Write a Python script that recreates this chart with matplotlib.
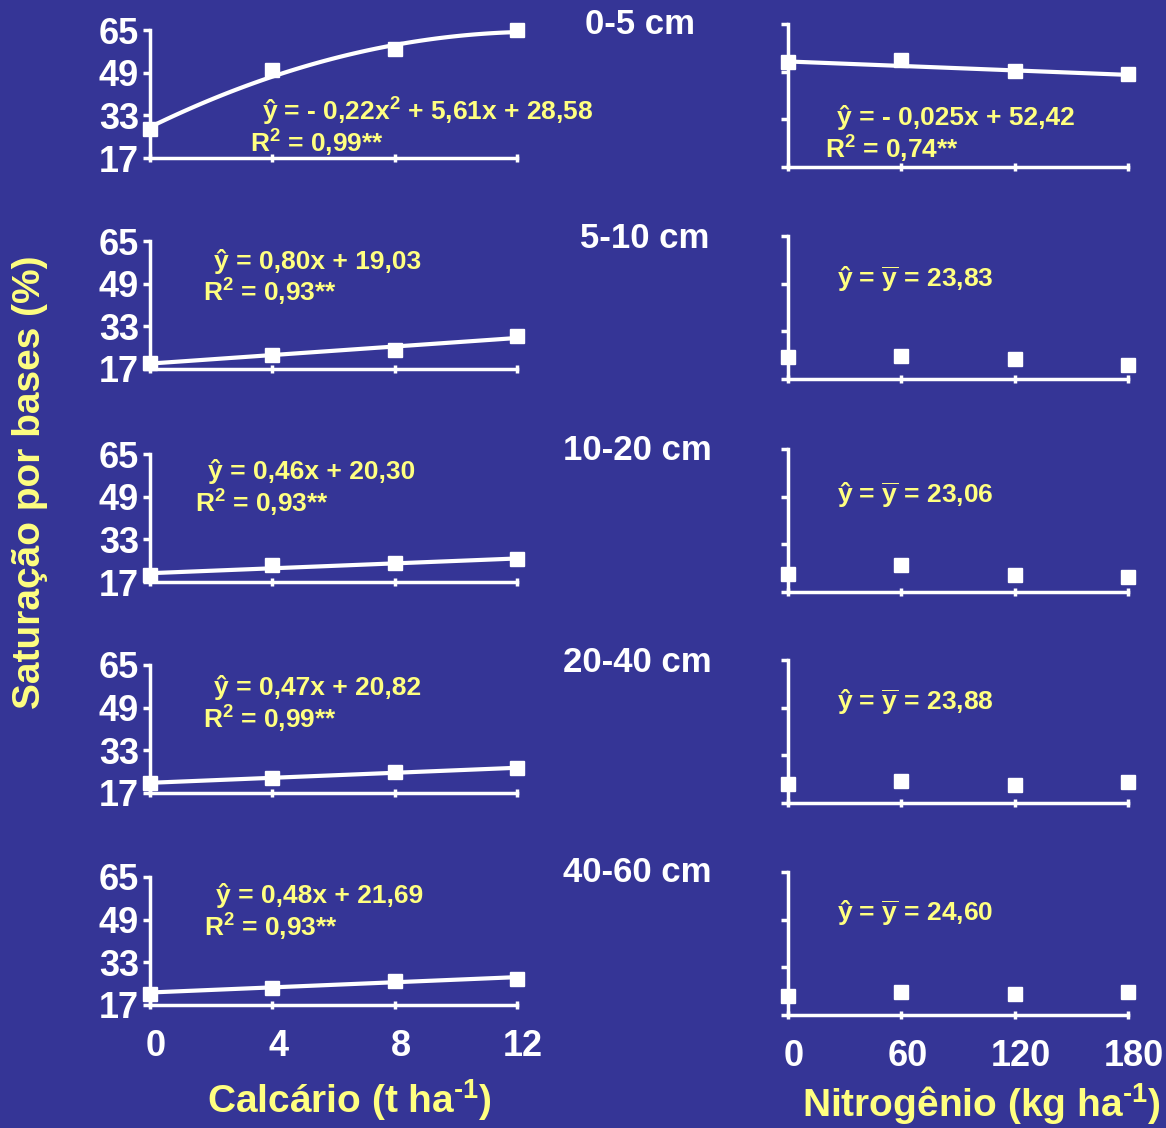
import numpy as np
import matplotlib
matplotlib.use("Agg")
import matplotlib.pyplot as plt
from matplotlib.transforms import ScaledTranslation

# dados: saturação por bases (%) por profundidade
profundidades = ["0-5 cm", "5-10 cm", "10-20 cm", "20-40 cm", "40-60 cm"]

calcario = [0, 4, 8, 12]
sat_calcario = [
    [28.0, 50.0, 57.8, 65.0],
    [19.2, 22.2, 24.2, 29.4],
    [19.6, 23.3, 24.0, 25.8],
    [20.7, 22.8, 24.8, 26.5],
    [21.0, 23.4, 26.0, 26.9],
]
# coeficientes das equações ajustadas (a2, a1, a0)
coef_calcario = [
    [-0.22, 5.61, 28.58],
    [0.0, 0.80, 19.03],
    [0.0, 0.46, 20.30],
    [0.0, 0.47, 20.82],
    [0.0, 0.48, 21.69],
]
eq_calcario = [
    (r"ŷ = - 0,22x$^2$ + 5,61x + 28,58", r"R$^2$ = 0,99**"),
    ("ŷ = 0,80x + 19,03", r"R$^2$ = 0,93**"),
    ("ŷ = 0,46x + 20,30", r"R$^2$ = 0,93**"),
    ("ŷ = 0,47x + 20,82", r"R$^2$ = 0,99**"),
    ("ŷ = 0,48x + 21,69", r"R$^2$ = 0,93**"),
]

nitrogenio = [0, 60, 120, 180]
sat_nitrogenio = [
    [52.2, 52.8, 49.1, 48.1],
    [24.4, 24.8, 23.8, 21.7],
    [23.2, 26.0, 22.6, 22.0],
    [23.4, 24.4, 23.1, 24.1],
    [23.4, 24.8, 24.1, 24.8],
]
coef_nitrogenio = [[-0.025, 52.42], None, None, None, None]
eq_nitrogenio = [
    ("ŷ = - 0,025x + 52,42", r"R$^2$ = 0,74**"),
    (r"ŷ = $\overline{\mathrm{y}}$ = 23,83", None),
    (r"ŷ = $\overline{\mathrm{y}}$ = 23,06", None),
    (r"ŷ = $\overline{\mathrm{y}}$ = 23,88", None),
    (r"ŷ = $\overline{\mathrm{y}}$ = 24,60", None),
]

yticks = [17, 33, 49, 65]

FUNDO = "#353596"
AMARELO = "#FFFF80"
BRANCO = "white"

plt.rcParams["font.family"] = ["Liberation Sans", "DejaVu Sans"]
plt.rcParams["font.weight"] = "bold"
plt.rcParams["mathtext.fontset"] = "custom"
plt.rcParams["mathtext.rm"] = "Liberation Sans:bold"
plt.rcParams["mathtext.it"] = "Liberation Sans:bold"
plt.rcParams["mathtext.bf"] = "Liberation Sans:bold"
plt.rcParams["mathtext.default"] = "rm"

W, H = 1166, 1128
fig = plt.figure(figsize=(W / 100, H / 100), dpi=100, facecolor=FUNDO)


def px_ax(x0, x1, top, bottom):
    return fig.add_axes([x0 / W, 1 - bottom / H, (x1 - x0) / W, (bottom - top) / H])


def ftext(x, y, s, **kw):
    fig.text(x / W, 1 - y / H, s, **kw)


def estilo(ax, xmax, xt, ylabels, xlabels):
    ax.set_facecolor("none")
    ax.set_xlim(0, xmax)
    ax.set_ylim(17, 65)
    for s in ["top", "right"]:
        ax.spines[s].set_visible(False)
    for s in ["left", "bottom"]:
        ax.spines[s].set_color(BRANCO)
        ax.spines[s].set_linewidth(2.5)
    ax.set_yticks(yticks)
    ax.set_xticks(xt)
    ax.tick_params(axis="y", colors=BRANCO, length=5, width=2.5, direction="out",
                   labelsize=26, pad=3, labelleft=ylabels)
    ax.tick_params(axis="x", colors=BRANCO, length=6, width=2.5, direction="inout",
                   labelsize=26, pad=14, labelbottom=xlabels)
    for lab in ax.get_xticklabels() + ax.get_yticklabels():
        lab.set_fontweight("bold")
    desloc = ScaledTranslation(6 / 100, 0, fig.dpi_scale_trans)
    for lab in ax.get_xticklabels():
        lab.set_transform(lab.get_transform() + desloc)


esq_tops = [30, 241, 454, 665, 877]
dir_tops = [24, 236, 449, 660, 872]
titulos_y = [25, 238, 450, 662, 873]
titulos_x = [640, 645, 637, 637, 637]
eq_esq_pos = [((262, 112), (250, 143)), ((214, 261), (203, 292)), ((208, 472), (195, 503)),
              ((214, 688), (203, 719)), ((216, 896), (204, 927))]
eq_dir_pos = [((837, 117), (825, 149)), ((837, 279), None), ((837, 495), None),
              ((837, 702), None), ((837, 913), None)]

for i in range(5):
    last = i == 4
    # painel calcário
    ax = px_ax(150, 517, esq_tops[i], esq_tops[i] + 128)
    estilo(ax, 12, calcario, True, last)
    xs = np.linspace(0, 12, 100)
    a2, a1, a0 = coef_calcario[i]
    ax.plot(xs, a2 * xs ** 2 + a1 * xs + a0, color=BRANCO, lw=3, clip_on=False, zorder=3)
    ax.plot(calcario, sat_calcario[i], "s", color=BRANCO, ms=10.5, clip_on=False, zorder=4)
    (p1, p2) = eq_esq_pos[i]
    ftext(*p1, eq_calcario[i][0], color=AMARELO, fontsize=19, fontweight="bold", va="center")
    ftext(*p2, eq_calcario[i][1], color=AMARELO, fontsize=19, fontweight="bold", va="center")

    # painel nitrogênio
    ax2 = px_ax(788, 1128, dir_tops[i], dir_tops[i] + 143)
    estilo(ax2, 180, nitrogenio, False, last)
    if coef_nitrogenio[i] is not None:
        b1, b0 = coef_nitrogenio[i]
        xn = np.array([0, 180])
        ax2.plot(xn, b1 * xn + b0, color=BRANCO, lw=3, clip_on=False, zorder=3)
    ax2.plot(nitrogenio, sat_nitrogenio[i], "s", color=BRANCO, ms=10.5, clip_on=False, zorder=4)
    q1, q2 = eq_dir_pos[i]
    ftext(*q1, eq_nitrogenio[i][0], color=AMARELO, fontsize=19, fontweight="bold", va="center")
    if q2 is not None:
        ftext(*q2, eq_nitrogenio[i][1], color=AMARELO, fontsize=19, fontweight="bold", va="center")

    ftext(titulos_x[i], titulos_y[i], profundidades[i], color=BRANCO, fontsize=25,
          fontweight="bold", ha="center", va="center")

ftext(30, 482, "Saturação por bases (%)", color=AMARELO, fontsize=28, fontweight="bold",
      rotation=90, ha="center", va="center")
ftext(349, 1100, r"Calcário (t ha$^{‐1}$)", color=AMARELO, fontsize=28, fontweight="bold",
      ha="center", va="center")
ftext(981, 1104, r"Nitrogênio (kg ha$^{‐1}$)", color=AMARELO, fontsize=28, fontweight="bold",
      ha="center", va="center")

fig.savefig("out.png", dpi=100, facecolor=FUNDO)
plt.close()
